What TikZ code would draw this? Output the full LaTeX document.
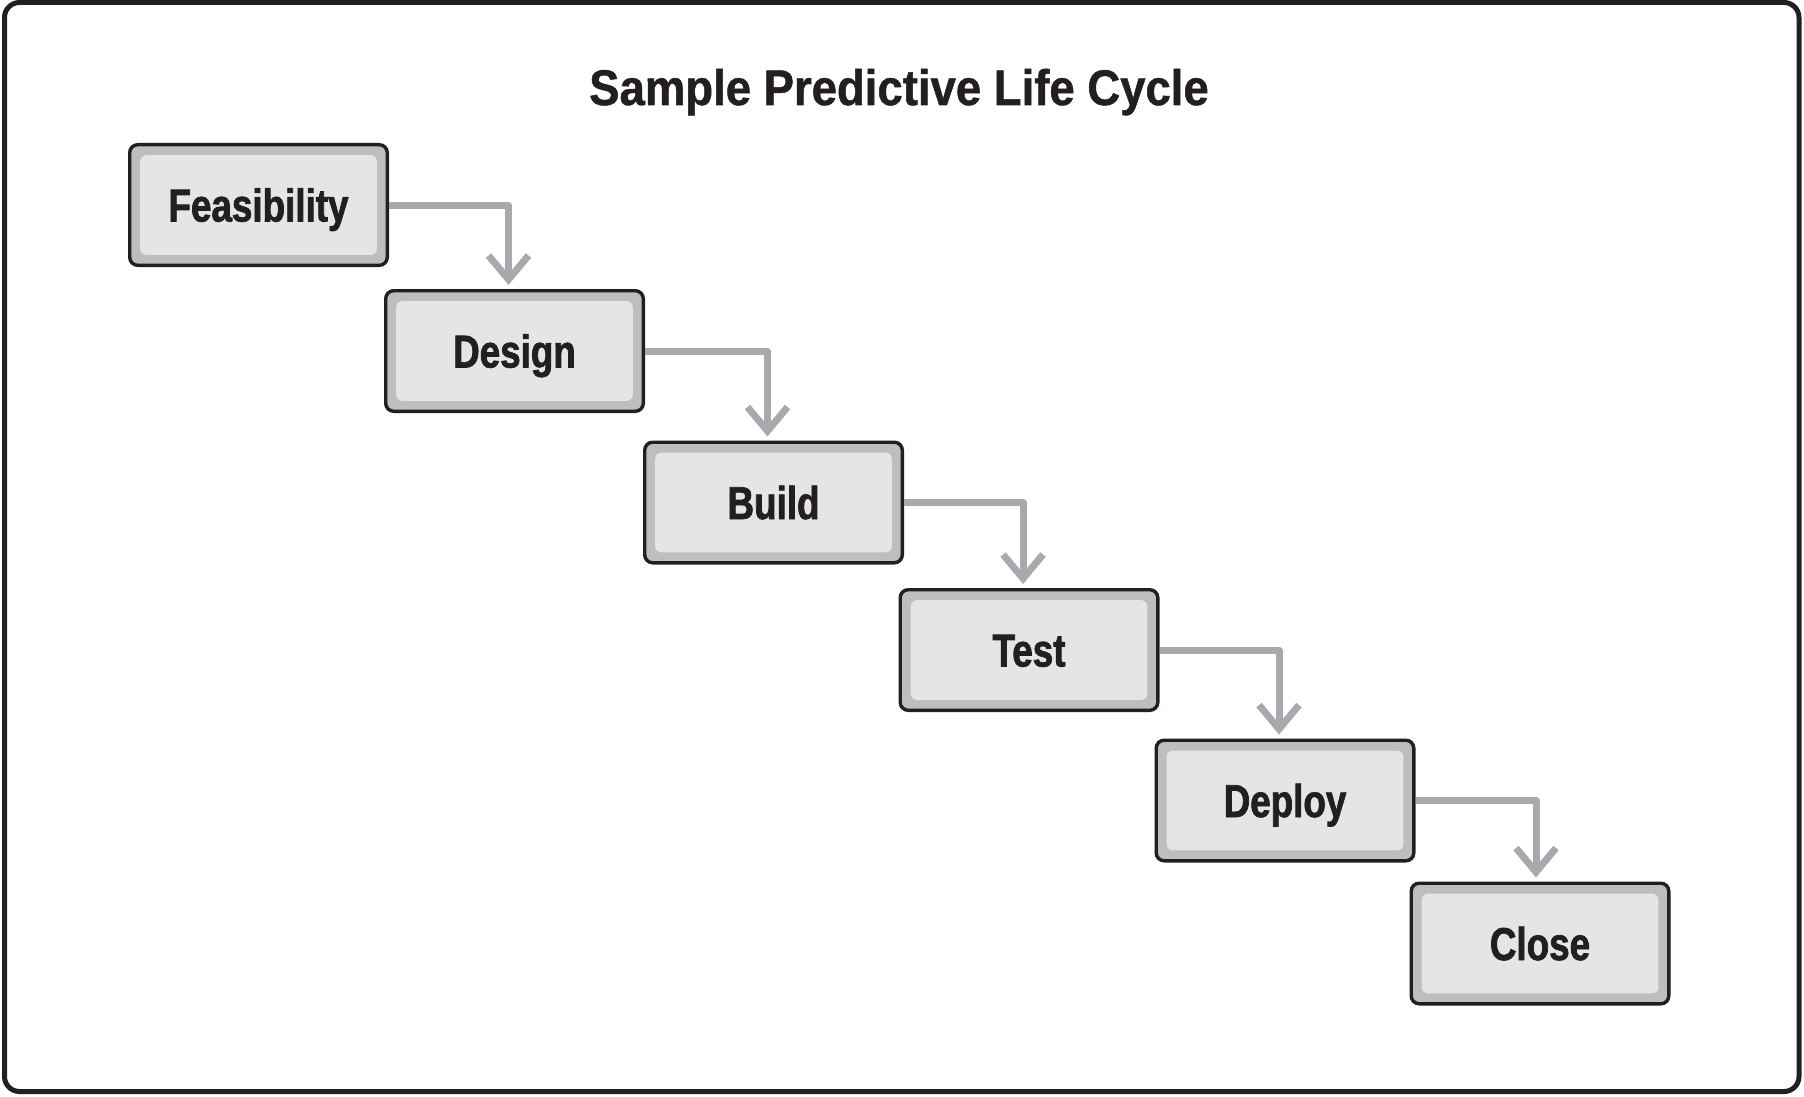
\documentclass[tikz,border=0pt]{standalone}
\usepackage{fontspec}
\setmainfont{Liberation Sans}
\newfontfamily\stagefont[FakeStretch=0.8,FakeBold=1.6]{Liberation Sans Bold}
\newfontfamily\headfont[FakeStretch=0.91,FakeBold=1]{Liberation Sans Bold}
\usetikzlibrary{arrows.meta}
\definecolor{ink}{HTML}{231F20}
\definecolor{band}{HTML}{BCBEC0}
\definecolor{innerfill}{HTML}{E4E5E7}
\definecolor{arrowgray}{HTML}{A7A9AC}
\tikzset{
  stage/.style={draw=ink, line width=3.4pt, fill=band, rounded corners=8pt,
    minimum width=257.6pt, minimum height=120.6pt, inner sep=0pt,
    text height=33pt, text depth=0pt, text=ink,
    font={\stagefont\fontsize{46}{46}\selectfont},
    path picture={\fill[innerfill, rounded corners=6pt]
      ([shift={(10.5pt,-10.5pt)}]path picture bounding box.north west) rectangle
      ([shift={(-10.5pt,10.5pt)}]path picture bounding box.south east);}},
  flow/.style={draw=arrowgray, line width=7pt, line join=round,
    -{Straight Barb[length=24pt,width=40pt]}},
  frame/.style={draw=ink, line width=5pt, rounded corners=15pt},
  heading/.style={text=ink, inner sep=0pt, text height=36pt, text depth=0pt,
    font={\headfont\fontsize{50}{50}\selectfont}}
}
\begin{document}
\begin{tikzpicture}[x=1pt,y=-1pt]
  \useasboundingbox (0,0) rectangle (1804,1097);
  \draw[frame] (4.5,2.5) rectangle (1799,1091.5);
  \node[heading] (title) at (899,87) {Sample Predictive Life Cycle};
  \node[stage] (feas)   at (258.5,205)   {Feasibility};
  \node[stage] (design) at (514.5,351)   {Design};
  \node[stage] (build)  at (773.5,502.5) {Build};
  \node[stage] (test)   at (1029,650)    {Test};
  \node[stage] (deploy) at (1285,800.5)  {Deploy};
  \node[stage] (close)  at (1540,943.5)  {Close};
  \draw[flow] (feas.east)   -| ([xshift=-6pt,yshift=4pt]design.north);
  \draw[flow] (design.east) -| ([xshift=-6pt,yshift=4pt]build.north);
  \draw[flow] (build.east)  -| ([xshift=-6pt,yshift=4pt]test.north);
  \draw[flow] (test.east)   -| ([xshift=-6pt,yshift=4pt]deploy.north);
  \draw[flow] (deploy.east) -| ([xshift=-4pt,yshift=4pt]close.north);
\end{tikzpicture}
\end{document}
